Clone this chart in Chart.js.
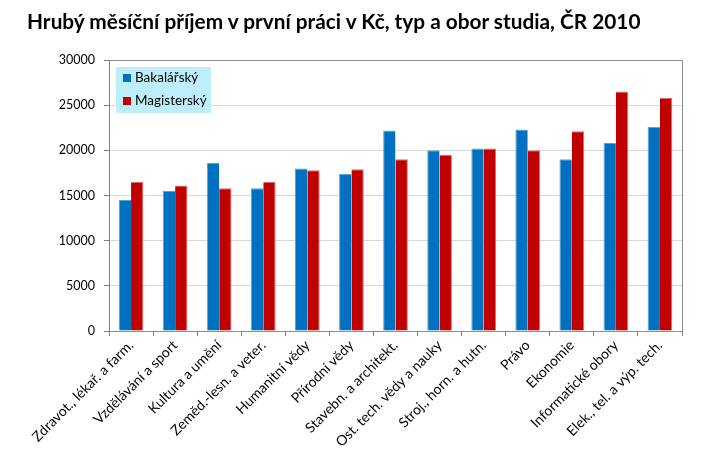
<!DOCTYPE html>
<html>
<head>
<meta charset="utf-8">
<script src="https://cdn.jsdelivr.net/npm/chart.js@4"></script>
<style>
  html, body { margin: 0; padding: 0; background: #fff; }
  #wrap { position: relative; width: 703px; height: 475px; }
  #title { position: absolute; left: 27px; top: 8px; font-family: Lato, sans-serif; font-weight: bold; font-size: 20.8px; color: #000; white-space: nowrap; }
  canvas { position: absolute; left: 0; top: 0; }
</style>
</head>
<body>
<div id="wrap">
  <canvas id="c" width="703" height="475"></canvas>
  <div id="title">Hrubý měsíční příjem v první práci v Kč, typ a obor studia, ČR 2010</div>
</div>
<script>
const categories = [
  "Zdravot., lékař. a farm.",
  "Vzdělávání a sport",
  "Kultura a umění",
  "Zeměd.-lesn. a veter.",
  "Humanitní vědy",
  "Přírodní vědy",
  "Stavebn. a architekt.",
  "Ost. tech. vědy a nauky",
  "Stroj., horn. a hutn.",
  "Právo",
  "Ekonomie",
  "Informatické obory",
  "Elek., tel. a výp. tech."
];
const seriesNames = ["Bakalářský", "Magisterský"];
const bakalarsky = [14500, 15500, 18600, 15800, 18000, 17400, 22200, 20000, 20200, 22300, 19000, 20800, 22600];
const magistersky = [16500, 16100, 15800, 16500, 17800, 17900, 19000, 19500, 20200, 20000, 22100, 26500, 25800];
const yTicks = [0, 5000, 10000, 15000, 20000, 25000, 30000];

const frameAndLegend = {
  id: 'frameAndLegend',
  afterDatasetsDraw(chart) {
    const ctx = chart.ctx;
    const a = chart.chartArea;
    ctx.save();
    ctx.strokeStyle = '#8c8c8c';
    ctx.lineWidth = 1;
    ctx.beginPath();
    ctx.moveTo(Math.round(a.left) + 0.5, Math.round(a.top) + 0.5);
    ctx.lineTo(Math.round(a.right) + 0.5, Math.round(a.top) + 0.5);
    ctx.lineTo(Math.round(a.right) + 0.5, Math.round(a.bottom) + 0.5);
    ctx.stroke();
    // legend box
    const x0 = a.left + 7, y0 = a.top + 7, w = 95, h = 46;
    ctx.fillStyle = '#bdeefb';
    ctx.fillRect(x0, y0, w, h);
    ctx.font = '13.5px Lato, sans-serif';
    ctx.textBaseline = 'middle';
    chart.data.datasets.forEach((ds, i) => {
      const cy = y0 + 11 + i * 23;
      ctx.fillStyle = ds.backgroundColor;
      ctx.fillRect(x0 + 7, cy - 4, 8, 8);
      ctx.fillStyle = '#000';
      ctx.fillText(ds.label, x0 + 19, cy);
    });
    ctx.restore();
  }
};

new Chart(document.getElementById('c'), {
  type: 'bar',
  data: {
    labels: categories,
    datasets: [
      { label: seriesNames[0], data: bakalarsky, backgroundColor: '#0070c0', borderColor: '#5aa0d8', borderWidth: {top:1,left:1,right:0,bottom:0}, borderSkipped: false },
      { label: seriesNames[1], data: magistersky, backgroundColor: '#c00000', borderColor: '#e06a6a', borderWidth: {top:1,left:0,right:1,bottom:0}, borderSkipped: false }
    ]
  },
  options: {
    responsive: false,
    animation: false,
    devicePixelRatio: 1,
    layout: { padding: { left: 0, right: 21, top: 60, bottom: 0 } },
    datasets: { bar: { barPercentage: 1, categoryPercentage: 0.56 } },
    plugins: { legend: { display: false }, tooltip: { enabled: false } },
    scales: {
      x: {
        offset: true,
        grid: { offset: true, drawOnChartArea: false, drawTicks: true, tickLength: 5, color: '#7f7f7f' },
        border: { color: '#8c8c8c' },
        ticks: { autoSkip: false, minRotation: 45, maxRotation: 45, padding: 1, color: '#000', font: { family: 'Lato, sans-serif', size: 14 } },
        afterFit(scale) { scale.height = 144; }
      },
      y: {
        min: 0, max: 30000,
        afterBuildTicks(scale) { scale.ticks = yTicks.map(v => ({ value: v })); },
        grid: { color: '#d9d9d9', tickLength: 5, tickColor: '#7f7f7f' },
        border: { color: '#7f7f7f' },
        ticks: { padding: 9, color: '#000', font: { family: 'Lato, sans-serif', size: 12.5 }, callback: v => String(v) },
        afterFit(scale) { scale.width = 109; }
      }
    }
  },
  plugins: [frameAndLegend]
});
</script>
</body>
</html>
